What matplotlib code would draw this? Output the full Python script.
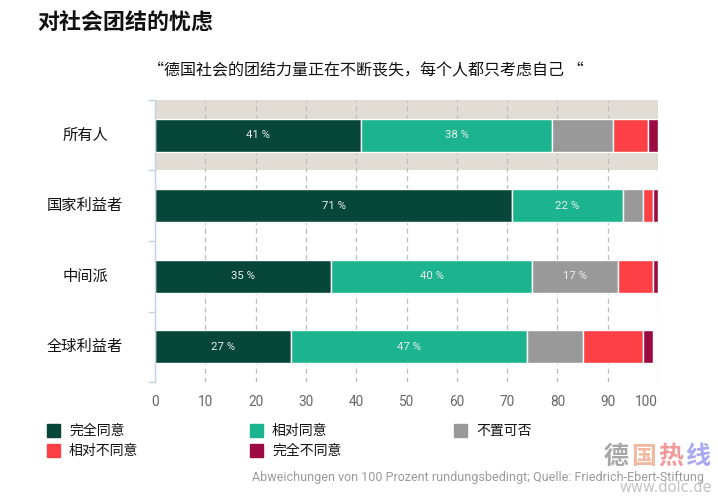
import matplotlib
matplotlib.use("Agg")
import matplotlib.pyplot as plt
from matplotlib.patches import Rectangle

plt.rcParams['font.family'] = ['Noto Sans CJK SC', 'DejaVu Sans']

categories = ["所有人", "国家利益者", "中间派", "全球利益者"]
series_names = ["完全同意", "相对同意", "不置可否", "相对不同意", "完全不同意"]
agree_full = [41, 71, 35, 27]
agree_rel = [38, 22, 40, 47]
neutral = [12, 4, 17, 11]
disagree_rel = [7, 2, 7, 12]
disagree_full = [2, 1, 1, 2]
series = [agree_full, agree_rel, neutral, disagree_rel, disagree_full]
colors = ["#07473a", "#1cb48e", "#999999", "#fc4046", "#9b0a40"]
xticks = [0, 10, 20, 30, 40, 50, 60, 70, 80, 90, 100]

title = "对社会团结的忧虑"
subtitle = "“德国社会的团结力量正在不断丧失，每个人都只考虑自己 “"
footer = "Abweichungen von 100 Prozent rundungsbedingt; Quelle: Friedrich-Ebert-Stiftung"

W, H = 718, 496
fig = plt.figure(figsize=(W / 100, H / 100), dpi=100)
ax = fig.add_axes([155 / W, 1 - 382 / H, 503 / W, 282 / H])

n = len(categories)
ypos = list(range(n))
ax.set_ylim(n - 0.5, -0.5)
ax.set_xlim(0, 100)

# highlight band for first row
ax.axhspan(-0.5, 0.5, facecolor="#e1ddd4", edgecolor="none", zorder=0)

for x in xticks:
    ax.axvline(x, color="#bcbcc0", lw=0.9, ls=(0, (4, 3)), zorder=1)

left = [0] * n
for vals, col in zip(series, colors):
    ax.barh(ypos, vals, left=left, height=0.47, color=col,
            edgecolor="white", linewidth=1, zorder=2)
    for i, v in enumerate(vals):
        if v >= 15:
            ax.text(left[i] + v / 2, ypos[i], f"{v} %", ha="center", va="center",
                    color="#e8efec", fontsize=8.2, family=["Roboto", "DejaVu Sans"], zorder=3)
    left = [l + v for l, v in zip(left, vals)]

for s in ["top", "right", "bottom"]:
    ax.spines[s].set_visible(False)
ax.spines["left"].set_color("#c5d2e3")
ax.spines["left"].set_linewidth(1)

ax.set_xticks(xticks)
labels = ax.set_xticklabels([str(x) for x in xticks], family=["Roboto", "DejaVu Sans"],
                            fontsize=9.8, color="#666666")
labels[-1].set_horizontalalignment("right")
ax.tick_params(axis="x", length=0, pad=9)
ax.set_yticks([])
ax.set_yticks([-0.5, 0.5, 1.5, 2.5, 3.5], minor=True)
ax.tick_params(axis="y", which="minor", length=5, color="#c5d2e3", width=1)

for i, c in enumerate(categories):
    ax.text(-0.139, ypos[i], c, transform=ax.get_yaxis_transform(),
            ha="center", va="center", fontsize=11, color="#111111")

fig.text(37 / W, 1 - 22 / H, title, fontsize=15.8, fontweight="bold",
         ha="left", va="center", color="#111111")
fig.text(366 / W, 1 - 71 / H, subtitle, fontsize=11.5,
         ha="center", va="center", color="#111111")

# legend
leg_pos = [(47, 424), (250, 424), (454, 424), (47, 444), (250, 444)]
for (lx, ly), name, col in zip(leg_pos, series_names, colors):
    fig.patches.append(Rectangle((lx / W, 1 - (ly + 13) / H), 13 / W, 13 / H,
                                 transform=fig.transFigure, color=col))
    fig.text((lx + 22) / W, 1 - (ly + 7) / H, name, fontsize=10,
             ha="left", va="center", color="#111111")

fig.text(252 / W, 1 - 477 / H, footer, fontsize=9, color="#9a9a9a",
         ha="left", va="center", family=["Roboto", "DejaVu Sans"])

# watermark
wm = [("德", "#a8a8a8"), ("国", "#f2b9a0"), ("热", "#f29a9a"), ("线", "#aaa8f0")]
for k, (ch, col) in enumerate(wm):
    fig.text((604 + 27 * k) / W, 1 - 457 / H, ch, fontsize=18, fontweight="bold",
             color=col, ha="left", va="center")
fig.text(712 / W, 1 - 488 / H, "www.dolc.de", fontsize=10.5, color="#c4c4c4",
         ha="right", va="center", family=["DejaVu Sans"])

fig.savefig("out.png", dpi=100)
